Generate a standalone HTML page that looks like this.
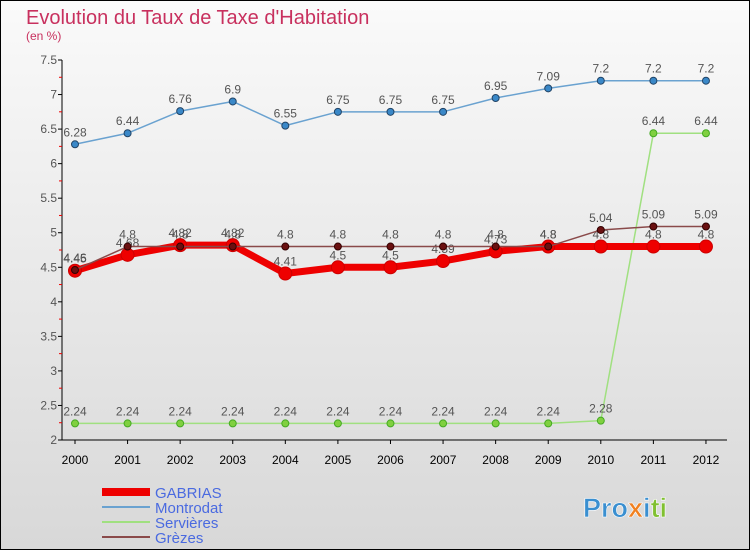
<!DOCTYPE html>
<html><head><meta charset="utf-8"><style>
body{margin:0}
#c{width:750px;height:550px;position:relative;overflow:hidden;font-family:"Liberation Sans",sans-serif}
svg text{font-family:"Liberation Sans",sans-serif}
</style></head><body>
<div id="c">
<svg id="s" width="750" height="550" xmlns="http://www.w3.org/2000/svg">
<defs><linearGradient id="bg" x1="0" y1="0" x2="0" y2="1"><stop offset="0" stop-color="#fafafa"/><stop offset="1" stop-color="#d8d8d8"/></linearGradient></defs>
<rect x="0.5" y="0.5" width="749" height="549" fill="url(#bg)" stroke="#000"/>
<text x="26" y="24" font-size="20" fill="#c8305e">Evolution du Taux de Taxe d'Habitation</text>
<text x="26" y="40" font-size="12" fill="#c8305e">(en %)</text>
<g id="axes"></g><g id="series"></g><g id="legend"></g>
<text x="583" y="517" font-size="27" font-weight="bold" stroke="#fff" stroke-width="0.6"><tspan fill="#3a8fd0">Pro</tspan><tspan fill="#f08020">x</tspan><tspan fill="#3a8fd0">i</tspan><tspan fill="#80c030">ti</tspan></text>
</svg></div>
<script>
const years=[2000,2001,2002,2003,2004,2005,2006,2007,2008,2009,2010,2011,2012];
const yTicks=[2,2.5,3,3.5,4,4.5,5,5.5,6,6.5,7,7.5];
const gabrias=[4.45,4.68,4.82,4.82,4.41,4.5,4.5,4.59,4.73,4.8,4.8,4.8,4.8];
const montrodat=[6.28,6.44,6.76,6.9,6.55,6.75,6.75,6.75,6.95,7.09,7.2,7.2,7.2];
const servieres=[2.24,2.24,2.24,2.24,2.24,2.24,2.24,2.24,2.24,2.24,2.28,6.44,6.44];
const grezes=[4.46,4.8,4.8,4.8,4.8,4.8,4.8,4.8,4.8,4.8,5.04,5.09,5.09];
const NS="http://www.w3.org/2000/svg";
const x=i=>75+i*52.58, y=v=>440-(v-2)*69.09;
function mk(t,a,p){const e=document.createElementNS(NS,t);for(const k in a)e.setAttribute(k,a[k]);p.appendChild(e);return e;}
const ax=document.getElementById('axes');
let l=mk('line',{x1:62,y1:60,x2:62,y2:440,stroke:'#000'},ax);


l=mk('line',{x1:62,y1:440,x2:727,y2:440,stroke:'#000'},ax);


yTicks.forEach(v=>{mk('line',{x1:58,y1:y(v),x2:62,y2:y(v),stroke:'#000'},ax);
 if(v<7.5)mk('line',{x1:59,y1:y(v+0.25),x2:62,y2:y(v+0.25),stroke:'#e00'},ax);
 const t=mk('text',{x:57,y:y(v)+4,'font-size':12,'text-anchor':'end',fill:'#555'},ax);t.textContent=String(v);
 
 });
years.forEach((yr,i)=>{mk('line',{x1:x(i),y1:440,x2:x(i),y2:444,stroke:'#000'},ax);
 const t=mk('text',{x:x(i),y:464,'font-size':12,'text-anchor':'middle',fill:'#000'},ax);t.textContent=yr;
 
 });
const sg=document.getElementById('series');
function draw(name,data,color,w,r,dot,stroke){
 const g=mk('g',{},sg);
 
 
 mk('polyline',{points:data.map((v,i)=>x(i)+','+y(v)).join(' '),fill:'none',stroke:color,'stroke-width':w,'stroke-linejoin':'round'},g);
 data.forEach((v,i)=>{const c=mk('circle',{cx:x(i),cy:y(v),r:r,fill:dot,stroke:stroke,'stroke-width':1},g);
  
  
  const t=mk('text',{x:x(i),y:y(v)-8,'font-size':12,'text-anchor':'middle',fill:'#555'},g);t.textContent=String(v);
  
  });
}
draw('montrodat',montrodat,'#6aa2d0',1.5,3.5,'#3a88c8','#246');
draw('servieres',servieres,'#a0e080',1.5,3.5,'#80d040','#4a2');
draw('gabrias',gabrias,'#ee0000',7,6.5,'#ee0000','#c00');
draw('grezes',grezes,'#8a4a4a',1.5,3.5,'#6a1010','#300');
const lg=document.getElementById('legend');
[['GABRIAS','#ee0000',8],['Montrodat','#6aa2d0',2],['Servières','#a0e080',2],['Grèzes','#8a4a4a',2]].forEach((d,i)=>{
 const yy=492+i*15;
 const g=mk('g',{},lg);
 
 
 mk('line',{x1:102,y1:yy,x2:150,y2:yy,stroke:d[1],'stroke-width':d[2]},g);
 const t=mk('text',{x:155,y:yy+6,'font-size':15,fill:'#4a6ae0'},g);t.textContent=d[0];
});
</script>
</body></html>
